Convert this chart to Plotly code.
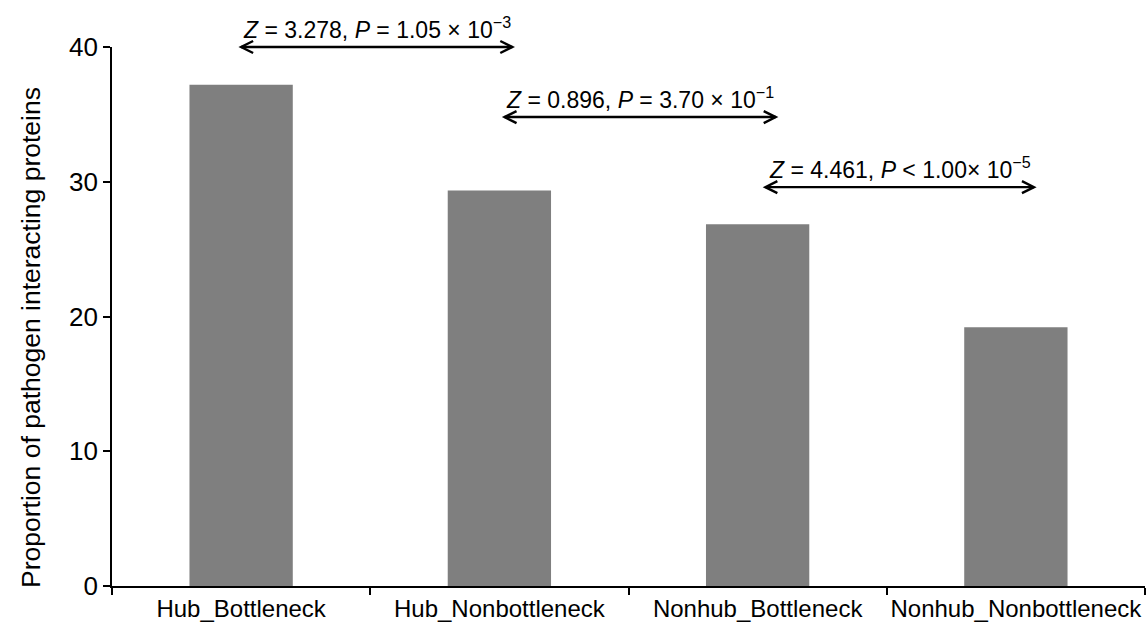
import plotly.graph_objects as go

# Bar data: proportion of pathogen-interacting proteins per network class
categories = ["Hub_Bottleneck", "Hub_Nonbottleneck", "Nonhub_Bottleneck", "Nonhub_Nonbottleneck"]
proportions = [37.2, 29.35, 26.85, 19.2]

# Pairwise comparisons drawn as double-headed arrows between neighbouring bars
comparison_labels = [
    "<i>Z</i> = 3.278, <i>P</i> = 1.05 × 10<sup>−3</sup>",
    "<i>Z</i> = 0.896, <i>P</i> = 3.70 × 10<sup>−1</sup>",
    "<i>Z</i> = 4.461, <i>P</i> &lt; 1.00× 10<sup>−5</sup>",
]
comparison_start = [0.0, 1.02, 2.03]
comparison_end = [1.05, 2.07, 3.07]
comparison_level = [40.0, 34.8, 29.6]

y_ticks = [0, 10, 20, 30, 40]
y_max = 40
y_title = "Proportion of pathogen interacting proteins"

FONT = "Arial, 'Liberation Sans', Helvetica, sans-serif"

fig = go.Figure(
    go.Bar(
        x=categories,
        y=proportions,
        marker=dict(color="#7f7f7f", line=dict(width=0)),
        width=0.4,
    )
)

shapes = []
annotations = []
for label, x0, x1, lvl in zip(comparison_labels, comparison_start, comparison_end, comparison_level):
    yp = lvl / y_max
    shapes.append(dict(type="line", xref="x", yref="paper", x0=x0, x1=x1, y0=yp, y1=yp,
                       line=dict(color="black", width=2.4)))
    for anchor, sgn in ((x0, 1), (x1, -1)):
        shapes.append(dict(
            type="path", xref="x", yref="paper",
            xsizemode="pixel", ysizemode="pixel", xanchor=anchor, yanchor=yp,
            path=f"M {sgn*12},6 L 0,0 L {sgn*12},-6",
            line=dict(color="black", width=2.4),
        ))
    annotations.append(dict(
        x=(x0 + x1) / 2, y=yp, xref="x", yref="paper",
        text=label, showarrow=False, xanchor="center", yanchor="bottom", yshift=2,
        font=dict(family=FONT, size=23, color="black"),
    ))

# vertical axis title, placed as a rotated annotation left of the tick labels
annotations.append(dict(
    x=-0.079, y=0.461, xref="paper", yref="paper",
    text=y_title, textangle=-90, showarrow=False,
    xanchor="center", yanchor="middle",
    font=dict(family=FONT, size=26.5, color="black"),
))

fig.update_layout(
    width=1146, height=628,
    margin=dict(l=112, r=1, t=47, b=42, autoexpand=False),
    plot_bgcolor="white", paper_bgcolor="white",
    showlegend=False,
    bargap=0.6,
    font=dict(family=FONT, color="black"),
    shapes=shapes,
    annotations=annotations,
)
fig.update_xaxes(
    showline=True, linecolor="black", linewidth=1.6,
    ticks="outside", tickson="boundaries", ticklen=7, tickwidth=1.6, tickcolor="black",
    tickangle=0, automargin=False,
    tickfont=dict(family=FONT, size=24, color="black"),
    showgrid=False, zeroline=False, range=[-0.5, 3.5],
)
fig.update_yaxes(
    range=[0, y_max], tickvals=y_ticks, automargin=False,
    showline=True, linecolor="black", linewidth=1.6,
    ticks="outside", ticklen=7, tickwidth=1.6, tickcolor="black",
    tickfont=dict(family=FONT, size=26, color="black"),
    showgrid=False, zeroline=False,
)

fig.write_html("out.html")
